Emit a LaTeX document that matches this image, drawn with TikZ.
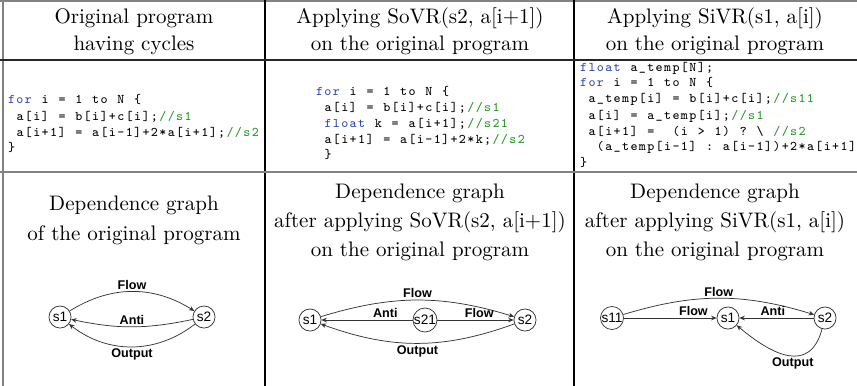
\documentclass[tikz,border=0pt]{standalone}
\usepackage{fontspec}
\setsansfont{Liberation Sans}
\usetikzlibrary{arrows.meta}
\definecolor{kwblue}{RGB}{45,75,175}
\definecolor{cmgreen}{RGB}{40,150,40}
\definecolor{rulegray}{RGB}{130,130,130}
\ExplSyntaxOn
\cs_new_protected:Npn \mycode #1
 {
  \str_map_inline:nn {#1}
   {
    \hbox_to_wd:nn {4pt}
     {
      \hss
      \str_case:nnF {##1}
       {
        {@}{}
        {|}{\char`\{}
        {!}{\char`\}}
       }
       {##1}
      \hss
     }
   }
 }
\ExplSyntaxOff
\newcommand\kw[1]{\textcolor{kwblue}{\mycode{#1}}}
\newcommand\cm[1]{\textcolor{cmgreen}{\mycode{#1}}}
\tikzset{
  x=0.476pt, y=-0.476pt,
  head/.style={anchor=base, inner sep=0pt, font=\fontsize{10}{12}\selectfont},
  codeline/.style={anchor=base west, inner sep=0pt, font=\fontsize{6.3}{8}\selectfont\ttfamily},
  stmt/.style={circle, draw=black!80, line width=0.35pt, minimum size=10.5pt, inner sep=0pt, font=\sffamily\fontsize{6.5}{7}\selectfont},
  dep/.style={draw=black!80, line width=0.35pt, -{Stealth[length=2.6pt,width=2.2pt]}},
  deplabel/.style={inner sep=0.8pt, font=\sffamily\bfseries\fontsize{6}{7}\selectfont},
}
\begin{document}
\begin{tikzpicture}
\useasboundingbox (0,0) rectangle (857,386);
% table rules
\draw[rulegray, line width=0.7pt] (0,1) -- (857,1);
\draw[rulegray, line width=0.8pt] (3,0) -- (3,386);
\draw[black, line width=0.5pt] (265,0) -- (265,386);
\draw[black, line width=0.5pt] (574,0) -- (574,386);
\draw[black!85, line width=0.6pt] (0,60) -- (857,60);
\draw[rulegray, line width=1pt] (0,172) -- (857,172);
% headers
\node[head] (h1a) at (134,23) {Original program};
\node[head] (h1b) at (134,50) {having cycles};
\node[head] (h2a) at (420,23) {Applying SoVR(s2, a[i+1])};
\node[head] (h2b) at (420,50) {on the original program};
\node[head] (h3a) at (715,23) {Applying SiVR(s1, a[i])};
\node[head] (h3b) at (715,50) {on the original program};
% code column 1
\node[codeline] (c1a) at (7,103) {\kw{for}\mycode{@i@=@1@to@N@|}};
\node[codeline] (c1b) at (7,120) {\mycode{@a[i]@=@b[i]+c[i];}\cm{//s1}};
\node[codeline] (c1c) at (7,136) {\mycode{@a[i+1]@=@a[i-1]+2*a[i+1];}\cm{//s2}};
\node[codeline] (c1d) at (7,151) {\mycode{!}};
% code column 2
\node[codeline] (c2a) at (315,95) {\kw{for}\mycode{@i@=@1@to@N@|}};
\node[codeline] (c2b) at (315,111) {\mycode{@a[i]@=@b[i]+c[i];}\cm{//s1}};
\node[codeline] (c2c) at (315,127) {\mycode{@}\kw{float}\mycode{@k@=@a[i+1];}\cm{//s21}};
\node[codeline] (c2d) at (315,143) {\mycode{@a[i+1]@=@a[i-1]+2*k;}\cm{//s2}};
\node[codeline] (c2e) at (315,158) {\mycode{@!}};
% code column 3
\node[codeline] (c3a) at (579,71) {\kw{float}\mycode{@a_temp[N];}};
\node[codeline] (c3b) at (579,86) {\kw{for}\mycode{@i@=@1@to@N@|}};
\node[codeline] (c3c) at (579,102) {\mycode{@a_temp[i]@=@b[i]+c[i];}\cm{//s11}};
\node[codeline] (c3d) at (579,119) {\mycode{@a[i]@=@a_temp[i];}\cm{//s1}};
\node[codeline] (c3e) at (579,135) {\mycode{@a[i+1]@=@@(i@>@1)@?@\@}\cm{//s2}};
\node[codeline] (c3f) at (579,150) {\mycode{@@(a_temp[i-1]@:@a[i-1])+2*a[i+1]}};
\node[codeline] (c3g) at (579,166) {\mycode{!}};
% bottom headers
\node[head] (g1a) at (134,210) {Dependence graph};
\node[head] (g1b) at (134,240) {of the original program};
\node[head] (g2a) at (420,198) {Dependence graph};
\node[head] (g2b) at (420,227) {after applying SoVR(s2, a[i+1])};
\node[head] (g2c) at (420,256) {on the original program};
\node[head] (g3a) at (715,198) {Dependence graph};
\node[head] (g3b) at (715,227) {after applying SiVR(s1, a[i])};
\node[head] (g3c) at (715,256) {on the original program};
% graph 1
\node[stmt] (a1) at (60,317) {s1};
\node[stmt] (a2) at (204,317) {s2};
\draw[dep] (a1) to[bend left=32] node[deplabel, above] (a1fl) {Flow} (a2);
\draw[dep] (a2) to[bend left=12] node[deplabel, above] (a1an) {Anti} (a1);
\draw[dep] (a2) to[bend left=38] node[deplabel, below] (a1ou) {Output} (a1);
% graph 2
\node[stmt] (b1) at (310,320) {s1};
\node[stmt] (b21) at (425,320) {s21};
\node[stmt] (b2) at (525,320) {s2};
\draw[dep] (b1) to[bend left=17] node[deplabel, above] (b1fl) {Flow} (b2);
\draw[dep] (b21) -- node[deplabel, above, pos=0.3] (b1an) {Anti} (b1);
\draw[dep] (b21) -- node[deplabel, above, pos=0.55] (b2fl) {Flow} (b2);
\draw[dep] (b2) to[bend left=20] node[deplabel, below] (b1ou) {Output} (b1);
% graph 3
\node[stmt] (d11) at (612,318) {s11};
\node[stmt] (d1) at (728,318) {s1};
\node[stmt] (d2) at (825,318) {s2};
\draw[dep] (d11) to[bend left=17] node[deplabel, above] (d1fl) {Flow} (d2);
\draw[dep] (d11) -- node[deplabel, above, pos=0.75] (d2fl) {Flow} (d1);
\draw[dep] (d2) -- node[deplabel, above, pos=0.55] (d1an) {Anti} (d1);
\draw[dep] (d2) to[out=-105, in=-40, looseness=1.4] node[deplabel, below, pos=0.45] (d1ou) {Output} (d1);
\end{tikzpicture}
\end{document}
